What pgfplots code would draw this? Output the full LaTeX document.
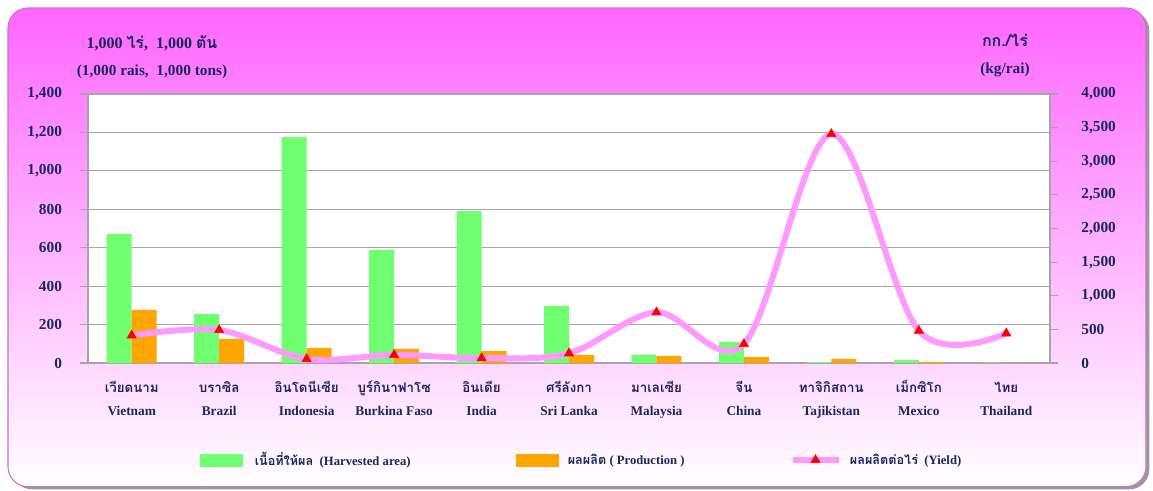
\documentclass[border=0pt]{standalone}
\usepackage{pgfplots}
\pgfplotsset{compat=1.18}
\usepackage{fontspec}
\setmainfont{Liberation Serif}
\newfontfamily\thai[Script=Thai]{Loma}
\newcommand\thlab[1]{{\thai\rule{0pt}{13pt}#1}}
\definecolor{navy}{RGB}{25,40,90}
\definecolor{barGreen}{RGB}{112,255,112}
\definecolor{barOrange}{RGB}{255,165,0}
\definecolor{yieldPink}{RGB}{255,153,255}
\definecolor{bgTop}{RGB}{255,102,255}
\definecolor{gridGray}{RGB}{166,166,166}
\pgfplotsset{yieldleg/.style={legend image code/.code={\draw[mark repeat=2,mark phase=2,##1] plot coordinates {(0pt,0pt) (17pt,0pt) (34.5pt,0pt)};}}}
\begin{document}
\begin{tikzpicture}
\path[use as bounding box] (0pt,0pt) rectangle (864.75pt,-367.5pt);
\fill[black!40, rounded corners=15pt] (9pt,-8pt) rectangle (862pt,-367pt);
\shade[top color=bgTop, bottom color=white, rounded corners=15pt, draw={rgb,255:red,205;green,110;blue,205}, line width=0.8pt] (6pt,-6pt) rectangle (859.5pt,-365pt);
\node[font=\bfseries\fontsize{12}{14}\selectfont, text=navy] at (114pt,-32.25pt) {1,000 {\thai ไร่},\ \ 1,000 {\thai ตัน}};
\node[font=\bfseries\fontsize{11.5}{14}\selectfont, text=navy] at (114pt,-54pt) {(1,000 rais,\ \ 1,000 tons)};
\node[font=\bfseries\fontsize{12}{14}\selectfont, text=navy] at (753.75pt,-30pt) {{\thai กก./ไร่}};
\node[font=\bfseries\fontsize{11.5}{14}\selectfont, text=navy] at (753.75pt,-52.5pt) {(kg/rai)};
\begin{axis}[
  at={(66pt,-272.25pt)}, anchor=south west,
  scale only axis, width=721.5pt, height=201.75pt,
  xmin=-0.5, xmax=10.5, ymin=0, ymax=1400,
  ytick={0,200,...,1400},
  ymajorgrids, grid style={draw=gridGray, line width=0.8pt},
  axis line style={draw=gridGray, line width=0.8pt},
  axis background/.style={fill=white},
  ytick pos=left, tick align=outside, major tick length=6pt,
  ytick style={draw=gridGray, line width=0.8pt},
  xtick={0,...,10}, xtick style={draw=none},
  xticklabels={
    \thlab{เวียดนาม}\\[5pt]Vietnam,
    \thlab{บราซิล}\\[5pt]Brazil,
    \thlab{อินโดนีเซีย}\\[5pt]Indonesia,
    \thlab{บูร์กินาฟาโซ}\\[5pt]Burkina Faso,
    \thlab{อินเดีย}\\[5pt]India,
    \thlab{ศรีลังกา}\\[5pt]Sri Lanka,
    \thlab{มาเลเซีย}\\[5pt]Malaysia,
    \thlab{จีน}\\[5pt]China,
    \thlab{ทาจิกิสถาน}\\[5pt]Tajikistan,
    \thlab{เม็กซิโก}\\[5pt]Mexico,
    \thlab{ไทย}\\[5pt]Thailand},
  xticklabel style={align=center, font=\bfseries\fontsize{10}{12}\selectfont, text=navy, yshift=0.5pt},
  yticklabel style={font=\bfseries\fontsize{11.5}{13}\selectfont, text=navy, xshift=-10pt},
  /pgf/number format/1000 sep={,},
  /pgf/number format/assume math mode=true,
  ybar=0pt, bar width=18.75pt,
]
\addplot[fill=barGreen, draw=none] coordinates {(0,671) (1,255) (2,1176) (3,588) (4,791) (5,297) (6,42) (7,109) (8,5) (9,15) (10,2)};
\addplot[fill=barOrange, draw=none] coordinates {(0,276) (1,125) (2,78) (3,73) (4,62) (5,42) (6,36) (7,31) (8,21) (9,6) (10,1)};
\end{axis}
\begin{axis}[
  at={(66pt,-272.25pt)}, anchor=south west,
  scale only axis, width=721.5pt, height=201.75pt,
  xmin=-0.5, xmax=10.5, ymin=0, ymax=4000,
  ytick={0,500,...,4000},
  axis y line*=right, axis x line=none,
  axis line style={draw=gridGray, line width=0.8pt},
  tick align=outside, major tick length=6pt,
  ytick style={draw=gridGray, line width=0.8pt},
  yticklabel style={font=\bfseries\fontsize{11.5}{13}\selectfont, text=navy, xshift=14pt},
  /pgf/number format/1000 sep={,},
  /pgf/number format/assume math mode=true,
  clip=false,
  legend columns=3,
  legend style={at={(0.1164,-0.3606)}, anchor=west, draw=none, fill=none,
    font=\bfseries\fontsize{9.5}{11}\selectfont, text=navy, inner sep=0pt,
    /tikz/every even column/.append style={column sep=77pt}},
  legend cell align=left,
]
\addlegendimage{legend image code/.code={\fill[barGreen] (0pt,-4.5pt) rectangle (31.5pt,4.5pt);}}
\addlegendentry{\hspace*{7pt}{\thai เนื้อที่ให้ผล}\ \ (Harvested area)}
\addlegendimage{legend image code/.code={\fill[barOrange] (0pt,-4.5pt) rectangle (31.5pt,4.5pt);}}
\addlegendentry{\hspace*{5pt}{\thai ผลผลิต} ( Production )}
\addplot[yieldPink, line width=4.5pt, smooth, tension=0.55, mark=triangle*, mark size=4pt,
  mark options={fill=red, draw=red, line width=0.4pt}, yieldleg]
  coordinates {(0,411) (1,490) (2,60) (3,120) (4,72) (5,144) (6,754) (7,283) (8,3405) (9,480) (10,441)};
\addlegendentry{\hspace*{4pt}{\thai ผลผลิตต่อไร่}\ \ (Yield)}
\end{axis}
\end{tikzpicture}
\end{document}
